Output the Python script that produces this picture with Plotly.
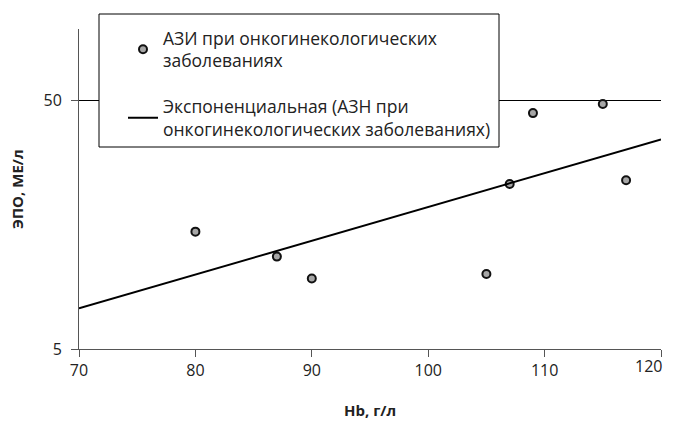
import numpy as np
import plotly.graph_objects as go

hb = [80, 87, 90, 105, 107, 109, 115, 117]
epo = [14.8, 11.75, 9.6, 10.0, 23.0, 44.3, 48.2, 23.8]
x_ticks = [70, 80, 90, 100, 110, 120]
y_ticks = [5, 50]

series_name = "АЗИ при онкогинекологических<br>заболеваниях"
trend_name = "Экспоненциальная (АЗН при<br>онкогинекологических заболеваниях)"
x_title = "Hb, г/л"
y_title = "ЭПО, МЕ/л"

# exponential trendline (least squares on log values)
b, a = np.polyfit(hb, np.log(epo), 1)
tx = np.array([70, 120])
ty = np.exp(a + b * tx)

FONT = "Open Sans"
# page body has an 8px margin: the figure is sized/offset to compensate
PW, PH = 582, 320  # plot area size in px

# last x tick label is drawn as a right-anchored annotation so it is not cut off
x_ticktext = [str(v) for v in x_ticks[:-1]] + [""]

fig = go.Figure()
fig.add_trace(go.Scatter(
    x=hb, y=epo, mode="markers", name=series_name, legendgroup="a",
    marker=dict(size=8, color="#a6a6a6", line=dict(color="#111111", width=2)),
))
fig.add_trace(go.Scatter(
    x=tx, y=ty, mode="lines", name=trend_name, legendgroup="b",
    line=dict(color="#000000", width=2),
))

fig.update_layout(
    width=666, height=421,
    margin=dict(l=71, r=13, t=21, b=80, autoexpand=False),
    paper_bgcolor="white", plot_bgcolor="white",
    font=dict(family=FONT, size=16, color="#222222"),
    showlegend=True,
    legend=dict(
        x=(123 - 79) / PW, y=(349 - 20) / PH, xanchor="left", yanchor="top",
        bgcolor="rgba(0,0,0,0)", borderwidth=0,
        font=dict(family=FONT, size=17.5, color="#222222"),
        tracegroupgap=20,
    ),
    shapes=[dict(
        type="rect", xref="paper", yref="paper", layer="above",
        x0=(99 - 79) / PW, x1=(499 - 79) / PW,
        y0=(349 - 147) / PH, y1=(349 - 14) / PH,
        line=dict(color="#000000", width=1), fillcolor="white",
    )],
    xaxis=dict(
        range=[70, 120], tickvals=x_ticks, ticktext=x_ticktext,
        ticks="outside", ticklen=7,
        tickcolor="#555555", showline=True, linecolor="#555555", linewidth=1,
        showgrid=False, zeroline=False, automargin=False,
        ticklabeloverflow="allow",
    ),
    yaxis=dict(
        type="log", range=[np.log10(5), np.log10(50) + 71 / 249],
        tickvals=y_ticks, ticktext=[str(v) for v in y_ticks],
        ticks="outside", ticklen=7, tickcolor="#555555", ticklabelstandoff=6,
        showline=True, linecolor="#555555", linewidth=1,
        showgrid=True, gridcolor="#000000", gridwidth=1, zeroline=False,
        automargin=False, ticklabeloverflow="allow",
    ),
    annotations=[
        dict(text=str(x_ticks[-1]), xref="x", yref="paper",
             x=x_ticks[-1], y=-17 / PH, xanchor="right", yanchor="middle",
             xshift=3, showarrow=False, font=dict(size=16, color="#222222")),
        dict(text="<b>" + x_title + "</b>", xref="paper", yref="paper",
             x=0.5, y=-61 / PH, xanchor="center", yanchor="middle",
             showarrow=False, font=dict(size=15, color="#222222")),
        dict(text="<b>" + y_title + "</b>", xref="paper", yref="paper",
             x=-62 / PW, y=0.5, xanchor="center", yanchor="middle", textangle=-90,
             showarrow=False, font=dict(size=15, color="#222222")),
    ],
)

fig.write_html("out.html")
